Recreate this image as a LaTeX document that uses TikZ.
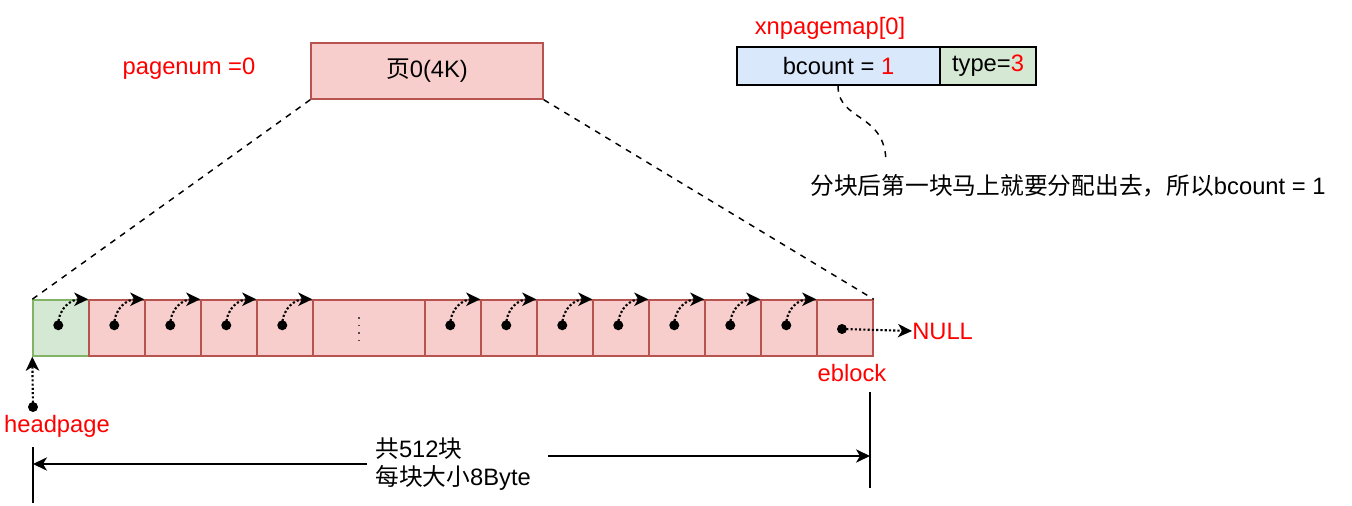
\documentclass[tikz,border=0pt]{standalone}
\usepackage{fontspec}
\setmainfont{Liberation Sans}
\newfontfamily\cjk{Noto Sans CJK SC}
\usetikzlibrary{arrows.meta,calc}
\definecolor{rfill}{HTML}{F8CECC}
\definecolor{rline}{HTML}{B85450}
\definecolor{gfill}{HTML}{D5E8D4}
\definecolor{gline}{HTML}{82B366}
\definecolor{bfill}{HTML}{DAE8FC}
\definecolor{redtext}{HTML}{FF0000}
\tikzset{
  cellbox/.style={draw=rline, fill=rfill, line width=1.1pt, minimum height=42pt, minimum width=42pt, inner sep=0pt},
  greencell/.style={cellbox, draw=gline, fill=gfill},
  blackbox/.style={draw=black, line width=1.1pt, minimum height=28.5pt, inner sep=0pt},
  dotnode/.style={circle, fill=black, inner sep=0pt, minimum size=7.5pt},
  ptr/.style={line width=1.6pt, dash pattern=on 1.6pt off 1.6pt, -{Stealth[length=10.5pt,width=10pt,inset=3pt]}},
  dimarrow/.style={line width=1.2pt, -{Stealth[length=10.5pt,width=10pt,inset=3pt]}},
  dashline/.style={line width=1.1pt, dash pattern=on 4.5pt off 4.5pt},
  redlabel/.style={text=redtext, inner sep=0pt},
  plainlabel/.style={inner sep=0pt},
}
\begin{document}
\begin{tikzpicture}[x=0.75pt,y=-0.75pt,font=\fontsize{17.8}{21}\selectfont]
\useasboundingbox (0,0) rectangle (1352,506);

% page box
\node[cellbox, minimum width=174pt] (page) at (427,71) {{\cjk 页}0(4K)};
\node[redlabel] (pagenum) at (189,69) {pagenum =0};

% cells
\node[greencell] (c1) at (61,328) {};
\node[cellbox] (c2) at (117,328) {};
\node[cellbox] (c3) at (173,328) {};
\node[cellbox] (c4) at (229,328) {};
\node[cellbox] (c5) at (285,328) {};
\node[cellbox, minimum width=84pt] (cm) at (369,328) {};
\node[cellbox] (c7) at (453,328) {};
\node[cellbox] (c8) at (509,328) {};
\node[cellbox] (c9) at (565,328) {};
\node[cellbox] (c10) at (621,328) {};
\node[cellbox] (c11) at (677,328) {};
\node[cellbox] (c12) at (733,328) {};
\node[cellbox] (c13) at (789,328) {};
\node[cellbox] (c14) at (845,328) {};

% ellipsis in the middle cell
\coordinate (e1) at (359,317);
\coordinate (e2) at (359,341);
\draw[line width=1.4pt, dash pattern=on 1.4pt off 4.3pt, black!70] (e1) -- (e2);

% dashed lines from page to cells
\draw[dashline] (page.south west) -- (c1.north west);
\draw[dashline] (page.south east) -- (c14.north east);

% dots and pointer arrows
\foreach \a/\b in {c1/c2,c2/c3,c3/c4,c4/c5,c5/cm,c7/c8,c8/c9,c9/c10,c10/c11,c11/c12,c12/c13,c13/c14}{
  \node[dotnode] (d\a) at ($(\a.north west)+(26,26)$) {};
  \draw[ptr] (d\a.center) .. controls +(0,-18) and +(-16,0) .. (\b.north west);
}
\node[dotnode] (dc14) at (842,329) {};
\node[redlabel, anchor=west] (null) at (912,331) {NULL};
\draw[ptr] (dc14.center) -- (null.west);
\node[redlabel] (eblock) at (852,373) {eblock};

% headpage
\node[dotnode] (hd) at (33,407) {};
\node[redlabel] (headpage) at (57,426) {headpage};
\draw[ptr] (hd.center) -- (c1.south west);

% xnpagemap
\node[redlabel] (xn) at (830,28) {xnpagemap[0]};
\node[blackbox, fill=bfill, minimum width=152.25pt] (bc) at (838.5,66) {bcount = \textcolor{redtext}{1}};
\node[blackbox, fill=gfill, minimum width=72pt] (ty) at (988,66) {type=\textcolor{redtext}{3}};
\node[plainlabel] (note) at (1068,186) {{\cjk 分块后第一块马上就要分配出去，所以}bcount = 1};
\coordinate (ne) at (886,163);
\draw[dashline] (bc.south -| 838,0) .. controls (838,122) and (886,112) .. (ne);

% dimension
\coordinate (l1) at (33,447);
\coordinate (l2) at (33,503);
\coordinate (r1) at (870,392);
\coordinate (r2) at (870,488);
\draw[line width=1.2pt] (l1) -- (l2);
\draw[line width=1.2pt] (r1) -- (r2);
\node[plainlabel, anchor=west, align=left] (dim) at (375,464) {{\cjk 共}512{\cjk 块}\\{\cjk 每块大小}8Byte};
\coordinate (la) at (367,464);
\coordinate (ra) at (548,456);
\draw[dimarrow] (la) -- (la -| l1);
\draw[dimarrow] (ra) -- (ra -| r1);
\end{tikzpicture}
\end{document}
